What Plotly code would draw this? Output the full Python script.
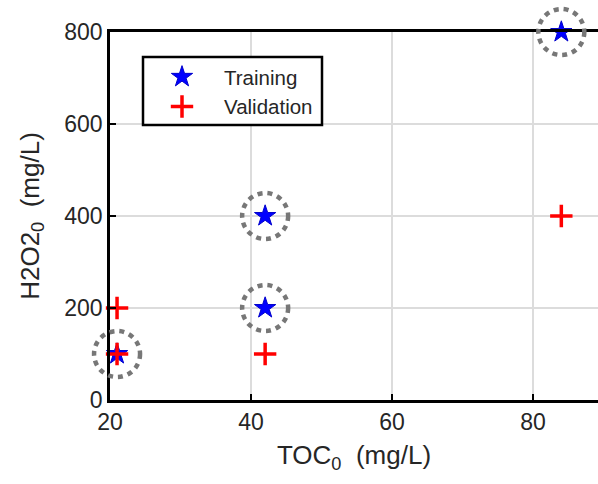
import plotly.graph_objects as go

# ---- data ----
toc_train = [21, 42, 42, 84]
h2o2_train = [100, 200, 400, 800]
toc_val = [21, 21, 42, 84]
h2o2_val = [100, 200, 100, 400]
x_ticks = [20, 40, 60, 80]
y_ticks = [0, 200, 400, 600, 800]
X_RANGE = [20, 89.2]
Y_RANGE = [0, 800]

FONT = "Arial, Liberation Sans, sans-serif"

# plot-area geometry (pixels) used only for layout placement
L, R, T, B = 110, 0, 32, 84
W, H = 598, 484
PW, PH = W - L - R, H - T - B


def px2paper(px, py):
    return (px - L) / PW, (H - B - py) / PH


fig = go.Figure()
fig.add_trace(go.Scatter(
    x=toc_train, y=h2o2_train, mode="markers", name="Training",
    marker=dict(symbol="star", size=16, color="#0000ff",
                line=dict(width=1, color="#0000cc")),
    cliponaxis=False))
fig.add_trace(go.Scatter(
    x=toc_val, y=h2o2_val, mode="markers", name="Validation",
    marker=dict(symbol="cross-thin-open", size=16, color="#ff0000",
                line=dict(width=3.5, color="#ff0000")),
    cliponaxis=False))

# dotted circles around training points (anchored via axis domain fractions)
for xv, yv in zip(toc_train, h2o2_train):
    fig.add_shape(type="circle", xref="x domain", yref="y domain",
                  xsizemode="pixel", ysizemode="pixel",
                  xanchor=(xv - X_RANGE[0]) / (X_RANGE[1] - X_RANGE[0]),
                  yanchor=(yv - Y_RANGE[0]) / (Y_RANGE[1] - Y_RANGE[0]),
                  x0=-23, x1=23, y0=-23, y1=23,
                  line=dict(color="#777777", width=4.5, dash="5px,5px"),
                  layer="above")

# legend box
bx0, by0 = px2paper(143, 125)
bx1, by1 = px2paper(322, 57)
fig.add_shape(type="rect", xref="paper", yref="paper",
              x0=bx0, x1=bx1, y0=by0, y1=by1,
              line=dict(color="black", width=2.5), fillcolor="white", layer="above")

lx, ly = px2paper(140, 57)

axis_common = dict(
    showline=True, linecolor="black", linewidth=2.5,
    ticks="inside", ticklen=6, tickwidth=2, tickcolor="black",
    showgrid=True, gridcolor="#dcdcdc", gridwidth=1.5, zeroline=False,
    tickfont=dict(family=FONT, size=23, color="#262626"),
    automargin=False,
)

fig.update_layout(
    width=W, height=H,
    margin=dict(l=L, r=R, t=T, b=B),
    paper_bgcolor="white", plot_bgcolor="white",
    font=dict(family=FONT, color="#262626"),
    showlegend=True,
    legend=dict(x=lx, y=ly, xanchor="left", yanchor="top",
                bgcolor="rgba(0,0,0,0)", borderwidth=0,
                font=dict(family=FONT, size=20.5, color="#262626"),
                itemwidth=74),
    xaxis=dict(range=X_RANGE, tickvals=x_ticks, mirror=True,
               title=dict(text="TOC<sub>0</sub>\u00a0\u00a0(mg/L)",
                          font=dict(family=FONT, size=26, color="#262626"), standoff=12),
               **axis_common),
    yaxis=dict(range=Y_RANGE, tickvals=y_ticks,
               title=dict(text="H2O2<sub>0</sub>\u00a0\u00a0(mg/L)",
                          font=dict(family=FONT, size=26, color="#262626"), standoff=18),
               **axis_common),
)

fig.write_html("out.html")
